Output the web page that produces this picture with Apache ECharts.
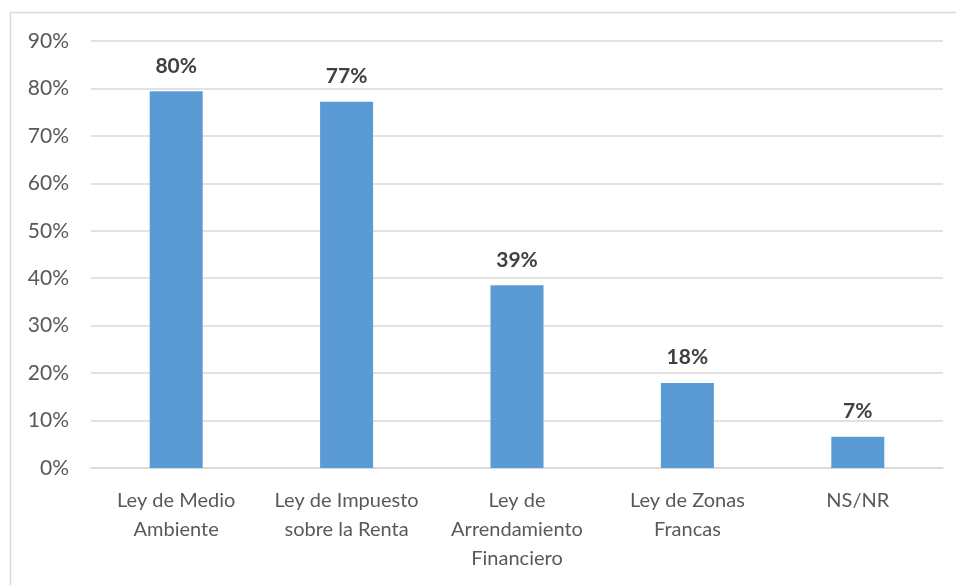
<!DOCTYPE html>
<html>
<head>
<meta charset="utf-8">
<script src="https://cdn.jsdelivr.net/npm/echarts@6/dist/echarts.min.js"></script>
<style>
  html, body { margin: 0; padding: 0; background: #fff; }
  #chart { width: 956px; height: 585px; }
</style>
</head>
<body>
<div id="chart"></div>
<script>
// categorias del eje x
const categories = [
  "Ley de Medio\nAmbiente",
  "Ley de Impuesto\nsobre la Renta",
  "Ley de\nArrendamiento\nFinanciero",
  "Ley de Zonas\nFrancas",
  "NS/NR"
];
// valores (%)
const values = [79.4, 77.2, 38.5, 17.9, 6.6];
// etiquetas mostradas sobre las barras
const barLabels = ["80%", "77%", "39%", "18%", "7%"];
const yTicks = [0, 10, 20, 30, 40, 50, 60, 70, 80, 90];

const chart = echarts.init(document.getElementById("chart"));
chart.setOption({
  animation: false,
  textStyle: { fontFamily: "Lato, 'Noto Sans', sans-serif" },
  graphic: [{
    type: "rect",
    shape: { x: 10.5, y: 12.5, width: 980, height: 620 },
    style: { fill: "none", stroke: "#d9d9d9", lineWidth: 1.5 },
    silent: true
  }],
  grid: { left: 91, right: 13, top: 41, bottom: 117 },
  xAxis: {
    type: "category",
    data: categories,
    axisTick: { show: false },
    axisLine: { lineStyle: { color: "#d9d9d9", width: 1.5 } },
    axisLabel: {
      interval: 0,
      color: "#595959",
      fontSize: 20,
      lineHeight: 29,
      margin: 18
    }
  },
  yAxis: {
    type: "value",
    min: yTicks[0],
    max: yTicks[yTicks.length - 1],
    interval: 10,
    axisLine: { show: false },
    axisTick: { show: false },
    splitLine: { lineStyle: { color: "#d9d9d9", width: 1.5 } },
    axisLabel: {
      color: "#595959",
      fontSize: 21,
      margin: 22,
      formatter: v => v + "%"
    }
  },
  series: [{
    type: "bar",
    data: values,
    barWidth: 53,
    itemStyle: { color: "#5b9bd5" },
    label: {
      show: true,
      position: "top",
      distance: 15,
      color: "#404040",
      fontWeight: "bold",
      fontSize: 21,
      formatter: p => barLabels[p.dataIndex]
    }
  }]
});
</script>
</body>
</html>
